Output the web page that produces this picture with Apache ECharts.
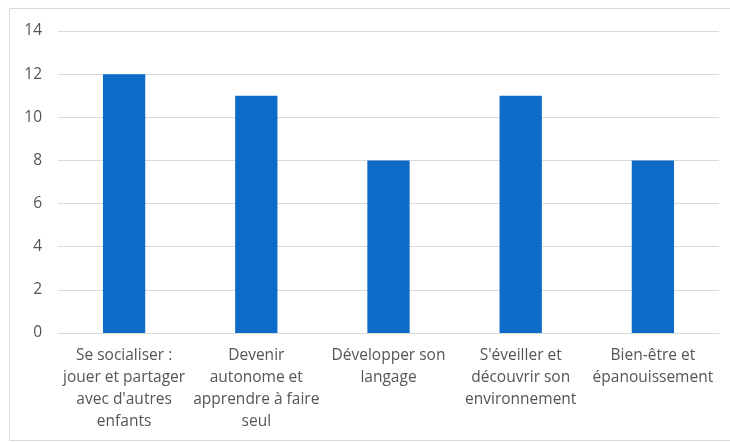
<!DOCTYPE html>
<html lang="fr">
<head>
    <meta charset="UTF-8">
    <title>ECharts</title>
    <script src="https://cdn.jsdelivr.net/npm/echarts@6/dist/echarts.min.js"></script>
    <style>
        html, body { margin: 0; padding: 0; background: #fff; }
    </style>
</head>
<body>
<div id="main" style="width: 730px;height:443px;"></div>
<script type="text/javascript">
// catégories (retours à la ligne comme dans l'original)
var categories = [
    'Se socialiser :\njouer et partager\navec d\'autres\nenfants',
    'Devenir\nautonome et\napprendre à faire\nseul',
    'Développer son\nlangage',
    'S\'éveiller et\ndécouvrir son\nenvironnement',
    'Bien-être et\népanouissement'
];
var values = [12, 11, 8, 11, 8];
var yTicks = [0, 2, 4, 6, 8, 10, 12, 14];

var myChart = echarts.init(document.getElementById('main'));
myChart.setOption({
    animation: false,
    textStyle: { fontFamily: 'Open Sans' },
    graphic: [{
        type: 'rect',
        shape: { x: 9.5, y: 8.5, width: 730, height: 432 },
        style: { fill: 'none', stroke: '#d9d9d9', lineWidth: 1 },
        silent: true
    }],
    grid: { left: 58, right: 11, top: 31, bottom: 110 },
    xAxis: {
        type: 'category',
        data: categories,
        axisLine: { lineStyle: { color: '#d9d9d9', width: 1 } },
        axisTick: { show: false },
        axisLabel: {
            color: '#555555',
            fontSize: 15.5,
            lineHeight: 22,
            margin: 12,
            interval: 0
        }
    },
    yAxis: {
        type: 'value',
        min: yTicks[0],
        max: yTicks[yTicks.length - 1],
        interval: 2,
        axisLine: { show: false },
        axisTick: { show: false },
        splitLine: { lineStyle: { color: '#d9d9d9', width: 1 } },
        axisLabel: { color: '#555555', fontSize: 15.5, margin: 16 }
    },
    series: [{
        type: 'bar',
        data: values,
        barWidth: '32%',
        itemStyle: { color: '#0e6bc8' }
    }]
});
</script>
</body>
</html>
